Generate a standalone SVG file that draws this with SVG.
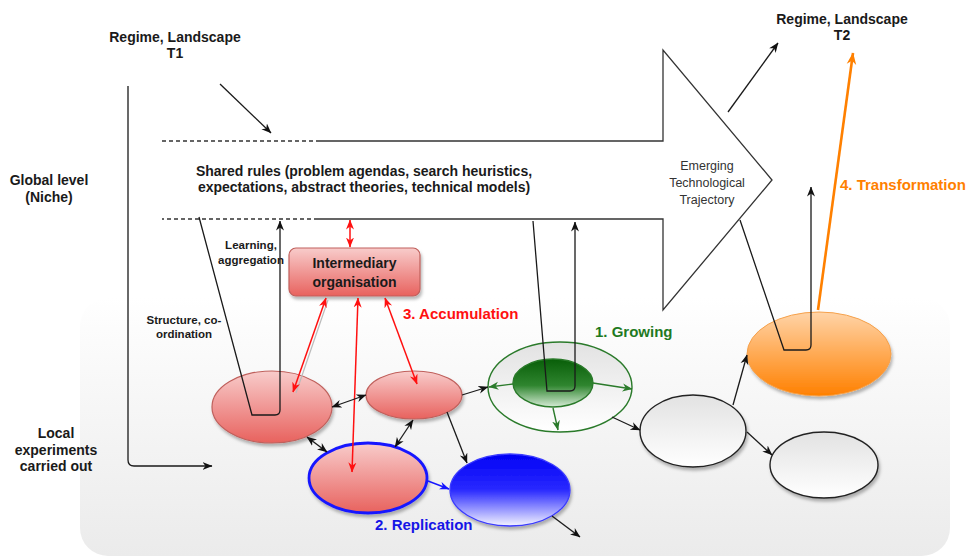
<svg xmlns="http://www.w3.org/2000/svg" width="966" height="558" viewBox="0 0 966 558">
<style>
text{font-family:"Liberation Sans",Arial,Helvetica,sans-serif;fill:#1a1a1a}
.b{font-weight:bold;font-size:14px}
.s{font-weight:bold;font-size:11.5px}
.r{font-size:12.5px;fill:#333}
.lab{font-weight:bold;font-size:15px}
.ln{fill:none;stroke:#1a1a1a;stroke-width:1.3}
.dash{fill:none;stroke:#333;stroke-width:1.3;stroke-dasharray:4 3}
.red{fill:none;stroke:#ff1010;stroke-width:1.5}
.grn{fill:none;stroke:#2a7a2a;stroke-width:1.4}
</style>
<defs>
<linearGradient id="bg" x1="0" y1="0" x2="0" y2="1"><stop offset="0" stop-color="#ffffff"/><stop offset="0.12" stop-color="#fcfcfc"/><stop offset="1" stop-color="#ebebeb"/></linearGradient>
<linearGradient id="gRed" x1="0" y1="0" x2="0" y2="1"><stop offset="0" stop-color="#f8cccb"/><stop offset="1" stop-color="#e8625e"/></linearGradient>
<linearGradient id="gBlue" x1="0" y1="0" x2="0" y2="1"><stop offset="0" stop-color="#0000f5"/><stop offset="0.5" stop-color="#2a2aff"/><stop offset="1" stop-color="#f4f4ff"/></linearGradient>
<linearGradient id="gGrnIn" x1="0" y1="0" x2="0" y2="1"><stop offset="0" stop-color="#085e08"/><stop offset="0.55" stop-color="#2f852f"/><stop offset="1" stop-color="#d5ebd5"/></linearGradient>
<linearGradient id="gGray" x1="0" y1="0" x2="0" y2="1"><stop offset="0" stop-color="#e2e2e2"/><stop offset="1" stop-color="#ffffff"/></linearGradient>
<linearGradient id="gOr" x1="0" y1="0" x2="0" y2="1"><stop offset="0" stop-color="#ffd4a8"/><stop offset="1" stop-color="#ff8000"/></linearGradient>
<filter id="sh" x="-20%" y="-20%" width="140%" height="150%"><feDropShadow dx="1.5" dy="3" stdDeviation="1.8" flood-color="#000" flood-opacity="0.28"/></filter>
<marker id="aB" viewBox="0 0 10 10" refX="9.5" refY="5" markerWidth="10" markerHeight="10" markerUnits="userSpaceOnUse" orient="auto-start-reverse"><path d="M0,1 L10,5 L0,9 L3,5 z" fill="#111"/></marker>
<marker id="aR" viewBox="0 0 10 10" refX="9.5" refY="5" markerWidth="10" markerHeight="10" markerUnits="userSpaceOnUse" orient="auto-start-reverse"><path d="M0,1 L10,5 L0,9 L3,5 z" fill="#ff1010"/></marker>
<marker id="aG" viewBox="0 0 10 10" refX="9.5" refY="5" markerWidth="10" markerHeight="10" markerUnits="userSpaceOnUse" orient="auto-start-reverse"><path d="M0,1 L10,5 L0,9 L3,5 z" fill="#2a7a2a"/></marker>
<marker id="aBl" viewBox="0 0 10 10" refX="9.5" refY="5" markerWidth="10" markerHeight="10" markerUnits="userSpaceOnUse" orient="auto-start-reverse"><path d="M0,1 L10,5 L0,9 L3,5 z" fill="#1515ff"/></marker>
<marker id="aO" viewBox="0 0 10 10" refX="9.5" refY="5" markerWidth="12" markerHeight="12" markerUnits="userSpaceOnUse" orient="auto-start-reverse"><path d="M0,1 L10,5 L0,9 L3,5 z" fill="#ff8000"/></marker>
</defs>

<rect id="background" x="80" y="298" width="870" height="258" rx="28" fill="url(#bg)"/>

<g id="trajectory">
<path class="dash" d="M162,141 H318"/>
<path class="dash" d="M318,219 H162"/>
<path fill="none" stroke="#333" stroke-width="1.3" d="M318,141 H663 V50 L772,180 L663,310 V219 H318"/>
<text class="b" x="364" y="176" text-anchor="middle">Shared rules (problem agendas, search heuristics,</text>
<text class="b" x="364" y="192" text-anchor="middle">expectations, abstract theories, technical models)</text>
<text class="r" x="707" y="169.5" text-anchor="middle">Emerging</text>
<text class="r" x="707" y="186.5" text-anchor="middle">Technological</text>
<text class="r" x="707" y="203.5" text-anchor="middle">Trajectory</text>
</g>

<g id="labels">
<text class="b" x="175" y="42" text-anchor="middle">Regime, Landscape</text>
<text class="b" x="175" y="58" text-anchor="middle">T1</text>
<text class="b" x="842" y="24" text-anchor="middle">Regime, Landscape</text>
<text class="b" x="842" y="40" text-anchor="middle">T2</text>
<text class="b" x="49" y="185" text-anchor="middle">Global level</text>
<text class="b" x="49" y="202" text-anchor="middle">(Niche)</text>
<text class="b" x="56" y="438" text-anchor="middle">Local</text>
<text class="b" x="56" y="455" text-anchor="middle">experiments</text>
<text class="b" x="56" y="471" text-anchor="middle">carried out</text>
<text class="s" x="251" y="249" text-anchor="middle">Learning,</text>
<text class="s" x="251" y="264" text-anchor="middle">aggregation</text>
<text class="s" x="184" y="324" text-anchor="middle">Structure, co-</text>
<text class="s" x="184" y="338" text-anchor="middle">ordination</text>
<text class="lab" x="403" y="319" style="fill:#ff1010">3. Accumulation</text>
<text class="lab" x="595" y="337" style="fill:#1f7a1f">1. Growing</text>
<text class="lab" x="375" y="530" style="fill:#1515e6">2. Replication</text>
<text class="lab" x="840" y="190" style="fill:#ff8000">4. Transformation</text>
</g>

<g id="intermediary">
<rect x="289" y="248" width="131" height="48" rx="7" fill="url(#gRed)" stroke="#c0605c" stroke-width="1.2" filter="url(#sh)"/>
<text class="b" x="354.5" y="268" text-anchor="middle">Intermediary</text>
<text class="b" x="354.5" y="287" text-anchor="middle">organisation</text>
</g>

<g id="redBig"><ellipse cx="272" cy="407" rx="60" ry="36" fill="url(#gRed)" stroke="#c0605c" stroke-width="1.2" filter="url(#sh)"/></g>
<g id="redMid"><ellipse cx="414" cy="395" rx="48" ry="24" fill="url(#gRed)" stroke="#c0605c" stroke-width="1.2" filter="url(#sh)"/></g>
<g id="redBlue"><ellipse cx="368" cy="478" rx="59" ry="35" fill="url(#gRed)" stroke="#1515ff" stroke-width="2.8" filter="url(#sh)"/></g>
<g id="blue"><ellipse cx="510" cy="490" rx="60" ry="36" fill="url(#gBlue)" stroke="#3a3aff" stroke-width="1.3" filter="url(#sh)"/></g>
<g id="greenOuter"><ellipse cx="560" cy="387" rx="72" ry="45" fill="url(#gGray)" stroke="#2a7a2a" stroke-width="1.4"/></g>
<g id="greenInner"><ellipse cx="553" cy="383" rx="40" ry="24" fill="url(#gGrnIn)" stroke="#2a7a2a" stroke-width="1.4"/></g>
<g id="white1"><ellipse cx="693" cy="431" rx="53" ry="36" fill="url(#gGray)" stroke="#222" stroke-width="1.4" filter="url(#sh)"/></g>
<g id="white2"><ellipse cx="824" cy="465" rx="54" ry="33" fill="url(#gGray)" stroke="#222" stroke-width="1.4" filter="url(#sh)"/></g>
<g id="orange"><ellipse cx="819" cy="354" rx="72" ry="42" fill="url(#gOr)" stroke="#f5a04a" stroke-width="1" filter="url(#sh)"/></g>

<g id="connectors">
<path class="ln" d="M220,84 L271,133" marker-end="url(#aB)"/>
<path class="ln" d="M128,86 V460 Q128,466 134,466 H212" marker-end="url(#aB)"/>
<path class="ln" d="M199,217 L252,415 H275 Q280,415 280,410 V221" marker-end="url(#aB)"/>
<path class="ln" d="M533,221 L547,391 H570 Q575,391 575,386 V222" marker-end="url(#aB)"/>
<path class="ln" d="M740,220 L784,350 H806 Q811,350 811,345 V187" marker-end="url(#aB)"/>
<path class="ln" d="M728,112 L778,43" marker-end="url(#aB)"/>
<path fill="none" stroke="#ff8000" stroke-width="2.6" d="M818,310 L853,53" marker-end="url(#aO)"/>
<path class="red" d="M350,220 L350,247" marker-start="url(#aR)" marker-end="url(#aR)"/>
<path fill="none" stroke="#bbb" stroke-width="1.2" d="M328,300 L296,393"/>
<path class="red" d="M326,298 L293,392" marker-start="url(#aR)" marker-end="url(#aR)"/>
<path class="red" d="M385,298 L417,384" marker-start="url(#aR)" marker-end="url(#aR)"/>
<path class="red" d="M358,298 L352,472" marker-start="url(#aR)" marker-end="url(#aR)"/>
<path class="ln" d="M332,407 L366,395" marker-start="url(#aB)" marker-end="url(#aB)"/>
<path class="ln" d="M307,437 L327,452" marker-start="url(#aB)" marker-end="url(#aB)"/>
<path class="ln" d="M413,420 L395,447" marker-start="url(#aB)" marker-end="url(#aB)"/>
<path class="ln" d="M447,412 L467,463" marker-end="url(#aB)"/>
<path fill="none" stroke="#1515ff" stroke-width="1.4" d="M428,481 L449,489" marker-end="url(#aBl)"/>
<path class="ln" d="M462,395 L488,387" marker-end="url(#aB)"/>
<path class="ln" d="M552,516 L580,537" marker-end="url(#aB)"/>
<path class="grn" d="M513,384 L489,387" marker-end="url(#aG)"/>
<path class="grn" d="M593,383 L632,389" marker-end="url(#aG)"/>
<path class="grn" d="M553,408 L558,430" marker-end="url(#aG)"/>
<path class="ln" d="M612,417 L640,430" marker-end="url(#aB)"/>
<path class="ln" d="M733,405 L747,355" marker-end="url(#aB)"/>
<path class="ln" d="M747,432 L772,455" marker-end="url(#aB)"/>
</g>
</svg>
